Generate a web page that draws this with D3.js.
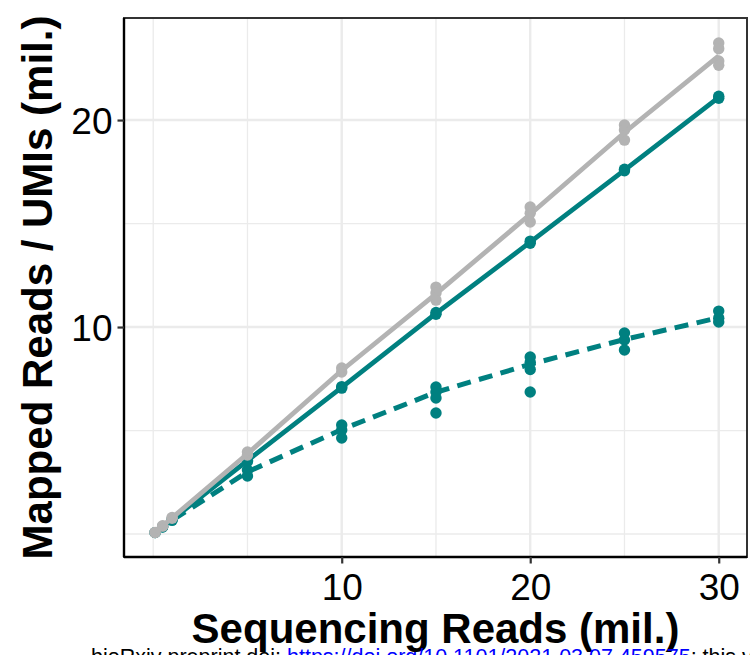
<!DOCTYPE html>
<html>
<head>
<meta charset="utf-8">
<script src="https://cdn.jsdelivr.net/npm/d3@7"></script>
<style>
  html, body { margin: 0; padding: 0; background: #fff; }
  svg { display: block; }
  text { font-family: "Liberation Sans", Arial, Helvetica, sans-serif; }
</style>
</head>
<body>
<svg id="chart" width="750" height="655"></svg>
<script>
// ---------- data ----------
const seqReads = [0.1, 0.5, 1, 5, 10, 15, 20, 25, 30];

// replicate points per sequencing depth
const grayPoints = [
  [0.08, 0.07], [0.40, 0.38], [0.80, 0.76], [3.96, 3.82], [8.02, 7.83],
  [11.93, 11.64, 11.30], [15.80, 15.50, 15.07], [19.76, 19.52, 19.03],
  [23.72, 23.45, 22.85, 22.65]
];
const tealSolidPoints = [
  [0.07], [0.35], [0.70], [3.57, 3.50], [7.12, 7.05], [10.70, 10.62],
  [14.15, 14.05], [17.62, 17.55], [21.15, 21.05]
];
const tealDashedPoints = [
  [0.07], [0.34], [0.66], [3.09, 2.80], [5.27, 5.02, 4.64],
  [7.10, 6.86, 6.57, 5.85], [8.55, 8.30, 7.95, 6.86], [9.71, 9.37, 8.89],
  [10.77, 10.43, 10.24]
];

// summary lines
const grayLine = [0.08, 0.39, 0.78, 3.88, 7.90, 11.60, 15.45, 19.40, 23.10];
const tealSolidLine = [0.07, 0.35, 0.70, 3.55, 7.08, 10.66, 14.10, 17.58, 21.10];
const tealDashedLine = [0.07, 0.34, 0.66, 3.00, 5.05, 6.85, 8.20, 9.40, 10.45];

const xTicks = [10, 20, 30];
const yTicks = [10, 20];
const xMinor = [0, 5, 15, 25];
const yMinor = [0, 5, 15];

const xTitle = "Sequencing Reads (mil.)";
const yTitle = "Mapped Reads / UMIs (mil.)";

// ---------- layout ----------
const P = { left: 124, right: 747, top: 18, bottom: 557 };
const TEAL = "#008080", GRAY = "#B3B3B3";

const svg = d3.select("#chart");
const x = d3.scaleLinear().domain([-1.55, 31.5]).range([P.left, P.right]);
const y = d3.scaleLinear().domain([-1.11, 24.93]).range([P.bottom, P.top]);

// gridlines
const grid = svg.append("g");
grid.selectAll(".vminor").data(xMinor).join("line")
  .attr("x1", d => x(d)).attr("x2", d => x(d))
  .attr("y1", P.top).attr("y2", P.bottom)
  .attr("stroke", "#EBEBEB").attr("stroke-width", 1.3);
grid.selectAll(".hminor").data(yMinor).join("line")
  .attr("y1", d => y(d)).attr("y2", d => y(d))
  .attr("x1", P.left).attr("x2", P.right)
  .attr("stroke", "#EBEBEB").attr("stroke-width", 1.3);
grid.selectAll(".vmajor").data(xTicks).join("line")
  .attr("x1", d => x(d)).attr("x2", d => x(d))
  .attr("y1", P.top).attr("y2", P.bottom)
  .attr("stroke", "#EBEBEB").attr("stroke-width", 2.4);
grid.selectAll(".hmajor").data(yTicks).join("line")
  .attr("y1", d => y(d)).attr("y2", d => y(d))
  .attr("x1", P.left).attr("x2", P.right)
  .attr("stroke", "#EBEBEB").attr("stroke-width", 2.4);

// ---------- marks ----------
const line = d3.line().x(d => x(d[0])).y(d => y(d[1]));
const pairs = (vals) => seqReads.map((s, i) => [s, vals[i]]);
const flat = (pts) => pts.flatMap((arr, i) => arr.map(v => [seqReads[i], v]));

const marks = svg.append("g");

function drawPoints(pts, color) {
  marks.append("g").selectAll("circle").data(flat(pts)).join("circle")
    .attr("cx", d => x(d[0])).attr("cy", d => y(d[1]))
    .attr("r", 5.7).attr("fill", color);
}

drawPoints(tealDashedPoints, TEAL);
marks.append("path").datum(pairs(tealDashedLine)).attr("d", line)
  .attr("fill", "none").attr("stroke", TEAL).attr("stroke-width", 5)
  .attr("stroke-dasharray", "14,8.5");

drawPoints(tealSolidPoints, TEAL);
marks.append("path").datum(pairs(tealSolidLine)).attr("d", line)
  .attr("fill", "none").attr("stroke", TEAL).attr("stroke-width", 4.8);

drawPoints(grayPoints, GRAY);
marks.append("path").datum(pairs(grayLine)).attr("d", line)
  .attr("fill", "none").attr("stroke", GRAY).attr("stroke-width", 4.8);

// ---------- panel border ----------
svg.append("rect")
  .attr("x", P.left).attr("y", P.top)
  .attr("width", P.right - P.left).attr("height", P.bottom - P.top)
  .attr("fill", "none").attr("stroke", "#333333").attr("stroke-width", 2);

// ---------- axes ----------
const xAxis = svg.append("g").attr("transform", `translate(0,${P.bottom})`)
  .call(d3.axisBottom(x).tickValues(xTicks).tickSize(6.5).tickPadding(10).tickFormat(d3.format("d")));
const yAxis = svg.append("g").attr("transform", `translate(${P.left},0)`)
  .call(d3.axisLeft(y).tickValues(yTicks).tickSize(6.5).tickPadding(5).tickFormat(d3.format("d")));

[xAxis, yAxis].forEach(a => {
  a.select(".domain").attr("stroke", "#000").attr("stroke-width", 2.4);
  a.selectAll(".tick line").attr("stroke", "#333").attr("stroke-width", 2.2);
  a.selectAll(".tick text").attr("fill", "#000").attr("font-size", 37)
    .attr("font-family", "Liberation Sans, Arial, Helvetica, sans-serif");
});
xAxis.select(".domain").attr("d", `M${P.left},0H${P.right}`);
yAxis.select(".domain").attr("d", `M0,${P.top}V${P.bottom}`);
yAxis.selectAll(".tick text").attr("dy", "0.36em");

// ---------- titles ----------
svg.append("text")
  .attr("x", (P.left + P.right) / 2).attr("y", 643)
  .attr("text-anchor", "middle").attr("font-size", 42).attr("font-weight", "bold")
  .attr("fill", "#000").text(xTitle);

svg.append("text")
  .attr("transform", `translate(52,${(P.top + P.bottom) / 2}) rotate(-90)`)
  .attr("text-anchor", "middle").attr("font-size", 42).attr("font-weight", "bold")
  .attr("fill", "#000").text(yTitle);

// ---------- preprint watermark (mostly below the bottom edge) ----------
const wm = svg.append("text").attr("x", 91).attr("y", 664)
  .attr("font-size", 21.5).attr("fill", "#000");
wm.append("tspan").text("bioRxiv preprint doi: ");
wm.append("tspan").attr("fill", "#0000FF").text("https://doi.org/10.1101/2021.03.07.459575");
wm.append("tspan").text("; this version posted March 8, 2021.");
</script>
</body>
</html>
